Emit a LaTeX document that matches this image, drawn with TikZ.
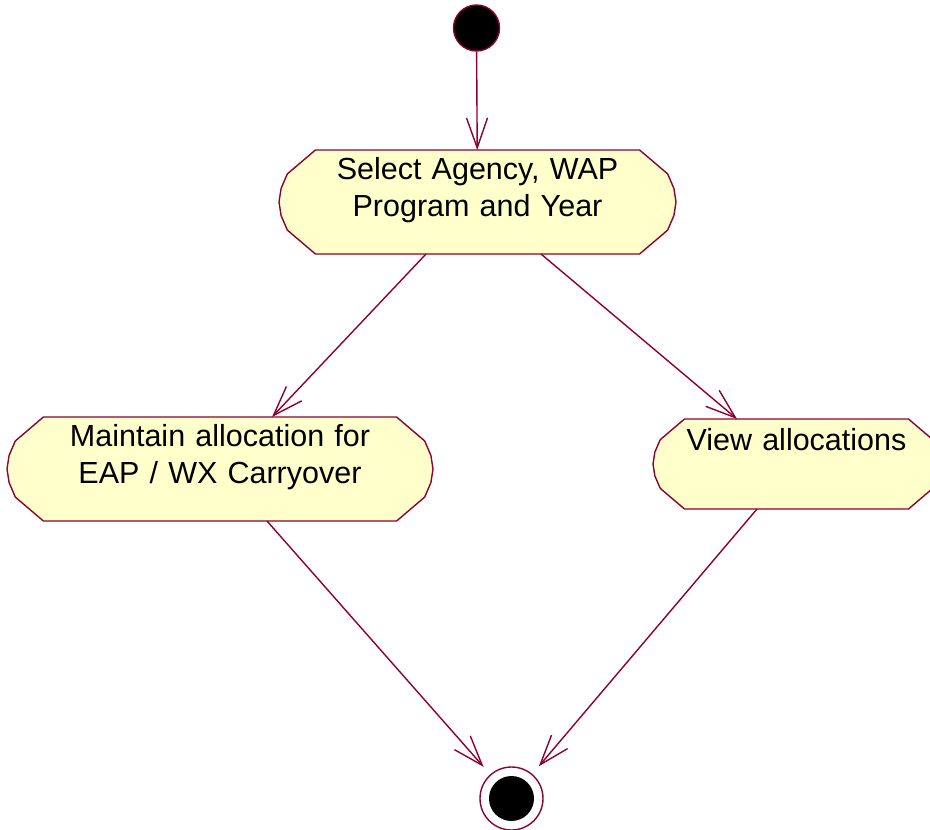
\documentclass[tikz,border=0pt]{standalone}
\usepackage{fontspec}
\setmainfont{Liberation Sans}
\usetikzlibrary{arrows.meta}
\definecolor{rline}{HTML}{8E0030}
\definecolor{rfill}{HTML}{FFFFCC}
\pgfdeclarelayer{bg}
\pgfsetlayers{bg,main}
\tikzset{ini/.style = {circle, minimum size=46pt, inner sep=0pt, draw=rline, fill=black},
           fin/.style = {circle, minimum size=63pt, inner sep=0pt, draw=rline,
                         path picture={\fill[black] (path picture bounding box.center) circle (22.5pt);}},
           act/.style = {rectangle, inner xsep=0pt, inner ysep=7pt, outer sep=0pt, align=center,
                         text height=22pt, font=\fontsize{30.5}{37}\selectfont},
           flow/.style = {->, draw=rline, line width=1.4pt}}
% outline of an activity: flat top and bottom, bent ends (#2 = box height)
\newcommand\actframe[2]{%
  \draw[draw=rline, fill=rfill, line width=1.4pt]
    ([xshift=.35*#2]#1.north west) -- ([xshift=.08*#2, yshift=-.23*#2]#1.north west)
    -- ([xshift=.02*#2, yshift=-.37*#2]#1.north west) -- (#1.west)
    -- ([xshift=.02*#2, yshift=.37*#2]#1.south west)
    -- ([xshift=.08*#2, yshift=.23*#2]#1.south west) -- ([xshift=.35*#2]#1.south west)
    -- ([xshift=-.35*#2]#1.south east) -- ([xshift=-.08*#2, yshift=.23*#2]#1.south east)
    -- ([xshift=-.02*#2, yshift=.37*#2]#1.south east) -- (#1.east)
    -- ([xshift=-.02*#2, yshift=-.37*#2]#1.north east)
    -- ([xshift=-.08*#2, yshift=-.23*#2]#1.north east) -- ([xshift=-.35*#2]#1.north east) -- cycle;}

\begin{document}
\begin{tikzpicture}[x=1pt, y=-1pt, line width=1.4pt, >={Straight Barb[length=30pt, width=21pt]}]
    \useasboundingbox (0,0) rectangle (930,830);
    \node[ini] (s) at (476.5,28) {};
    \node[act, text width=397pt, text depth=68pt] (sel) at (477.5,202) {Select Agency, WAP\\Program and Year};
    \node[act, text width=426pt, text depth=68pt] (mnt) at (220,469) {Maintain allocation for\\EAP / WX Carryover};
    \node[act, text width=287pt, text depth=50pt, inner ysep=9pt] (view) at (796.5,464) {View allocations};
    \node[fin] (t) at (511.5,798.5) {};
    \begin{pgfonlayer}{bg}
      \actframe{sel}{104} \actframe{mnt}{104} \actframe{view}{90}
    \end{pgfonlayer}
    \draw[flow] (s) -- (sel);
    \draw[flow] ([xshift=-51.5pt]sel.south) -- ([xshift=52pt]mnt.north);
    \draw[flow] ([xshift=63.5pt]sel.south) -- ([xshift=-59.5pt]view.north);
    \draw[flow, shorten >=10pt] ([xshift=47pt]mnt.south) -- (t);
    \draw[flow, shorten >=10pt] ([xshift=-39.5pt]view.south) -- (t);
  \end{tikzpicture}
\end{document}
